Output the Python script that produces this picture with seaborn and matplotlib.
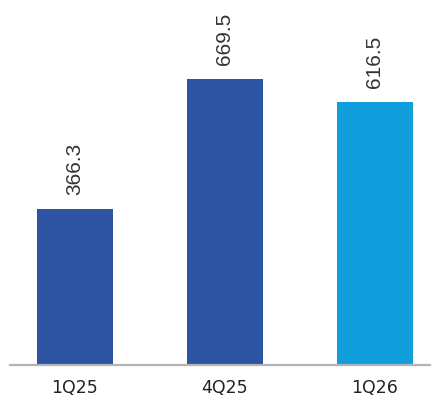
import matplotlib
matplotlib.use("Agg")
import matplotlib.pyplot as plt
import seaborn as sns
import pandas as pd

quarters = ["1Q25", "4Q25", "1Q26"]
values = [366.3, 669.5, 616.5]
bar_colors = ["#2c54a3", "#2c54a3", "#109fdc"]

df = pd.DataFrame({"quarter": quarters, "value": values})

sns.set_theme(style="white")
plt.rcParams["font.family"] = ["DejaVu Sans"]

fig = plt.figure(figsize=(4.38, 3.96), dpi=100)
ax = fig.add_axes([10 / 438, 1 - 365 / 396, 420 / 438, 365 / 396])

sns.barplot(data=df, x="quarter", y="value", hue="quarter", palette=bar_colors,
            width=0.507, legend=False, saturation=1, linewidth=0, ax=ax)

ax.set_xlim(-0.433, 2.367)
ax.set_ylim(0, 855)

for i, v in enumerate(values):
    ax.text(i, v + 33, f"{v:.1f}", rotation=90, ha="center", va="bottom",
            fontsize=15, fontfamily="Liberation Sans", color="#333333")

for s in ["top", "right", "left"]:
    ax.spines[s].set_visible(False)
ax.spines["bottom"].set_color("#b3b3b3")
ax.spines["bottom"].set_linewidth(1.6)

ax.set_yticks([600, 700, 800])
ax.tick_params(axis="y", length=1, width=0.6, color="#eeeeee", labelleft=False, left=True)
ax.tick_params(axis="x", length=0, pad=10, labelsize=12.5, labelcolor="#222222")
ax.set_xlabel("")
ax.set_ylabel("")

fig.savefig("out.png", dpi=100)
